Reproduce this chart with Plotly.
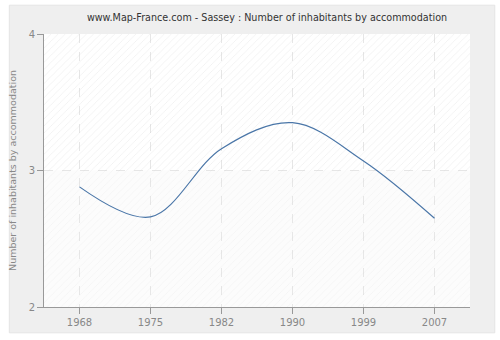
import plotly.graph_objects as go

years = ["1968", "1975", "1982", "1990", "1999", "2007"]
values = [2.88, 2.66, 3.16, 3.35, 3.07, 2.65]
y_ticks = [2, 3, 4]

title = "www.Map-France.com - Sassey : Number of inhabitants by accommodation"
y_title = "Number of inhabitants by accommodation"

x_idx = list(range(len(years)))
x_lo, x_hi = -0.5, len(years) - 0.5
y_lo, y_mid, y_hi = y_ticks[0], y_ticks[1], y_ticks[2]

fig = go.Figure()

# hatched plot background bands (transparent so grid shows through)
fig.add_trace(go.Scatter(
    x=[x_lo, x_hi, x_hi, x_lo, x_lo], y=[y_mid, y_mid, y_hi, y_hi, y_mid],
    fill="toself", mode="none", fillcolor="rgba(0,0,0,0)",
    fillpattern=dict(shape="/", fgcolor="rgba(200,200,200,0.55)", bgcolor="rgba(0,0,0,0)",
                     size=5, solidity=0.15),
    hoverinfo="skip", showlegend=False))
fig.add_trace(go.Scatter(
    x=[x_lo, x_hi, x_hi, x_lo, x_lo], y=[y_lo, y_lo, y_mid, y_mid, y_lo],
    fill="toself", mode="none", fillcolor="rgba(0,0,0,0)",
    fillpattern=dict(shape="/", fgcolor="rgba(200,200,200,0.3)", bgcolor="rgba(230,230,230,0.15)",
                     size=5, solidity=0.15),
    hoverinfo="skip", showlegend=False))

fig.add_trace(go.Scatter(
    x=x_idx, y=values, mode="lines",
    line=dict(color="#4a76a8", width=1.2, shape="spline", smoothing=1.0),
    showlegend=False))

px_l, px_r, px_t, px_b = 40, 470, 34, 309
W, H = 500, 340

def pxx(p):
    return (p - px_l) / (px_r - px_l)

def pxy(p):
    return (px_b - p) / (px_b - px_t)

fig.add_shape(type="rect", xref="paper", yref="paper",
              x0=pxx(5), x1=pxx(495), y0=pxy(335), y1=pxy(5),
              fillcolor="#efefef", line=dict(color="#e4e4e4", width=1), layer="below")
fig.add_shape(type="rect", xref="paper", yref="paper",
              x0=0, x1=1, y0=0, y1=1,
              fillcolor="#ffffff", line=dict(width=0), layer="below")

fig.update_layout(
    width=W, height=H,
    margin=dict(l=px_l, r=W - px_r, t=px_t, b=H - px_b),
    paper_bgcolor="#ffffff",
    plot_bgcolor="rgba(0,0,0,0)",
    title=dict(text=title, x=267 / W, xanchor="center", y=1 - 18 / H, yanchor="middle",
               font=dict(family="DejaVu Sans", size=9.6, color="#333333")),
    font=dict(family="DejaVu Sans", size=10, color="#888888"),
    xaxis=dict(range=[x_lo, x_hi], tickvals=x_idx, ticktext=years,
               showgrid=True, gridcolor="#e6e6e6", griddash="dash", gridwidth=1,
               showline=True, linecolor="#999999", linewidth=1,
               ticks="outside", ticklen=6, tickcolor="#999999",
               zeroline=False, tickfont=dict(size=10, color="#888888")),
    yaxis=dict(range=[y_lo, y_hi], tickvals=y_ticks,
               showgrid=True, gridcolor="#e6e6e6", griddash="dash", gridwidth=1,
               showline=True, linecolor="#999999", linewidth=1,
               ticks="outside", ticklen=6, tickcolor="#999999",
               zeroline=False, tickfont=dict(size=10, color="#888888"),
               title=dict(text=y_title, font=dict(size=9.5, color="#888888"), standoff=10)),
)

fig.write_html("out.html")
